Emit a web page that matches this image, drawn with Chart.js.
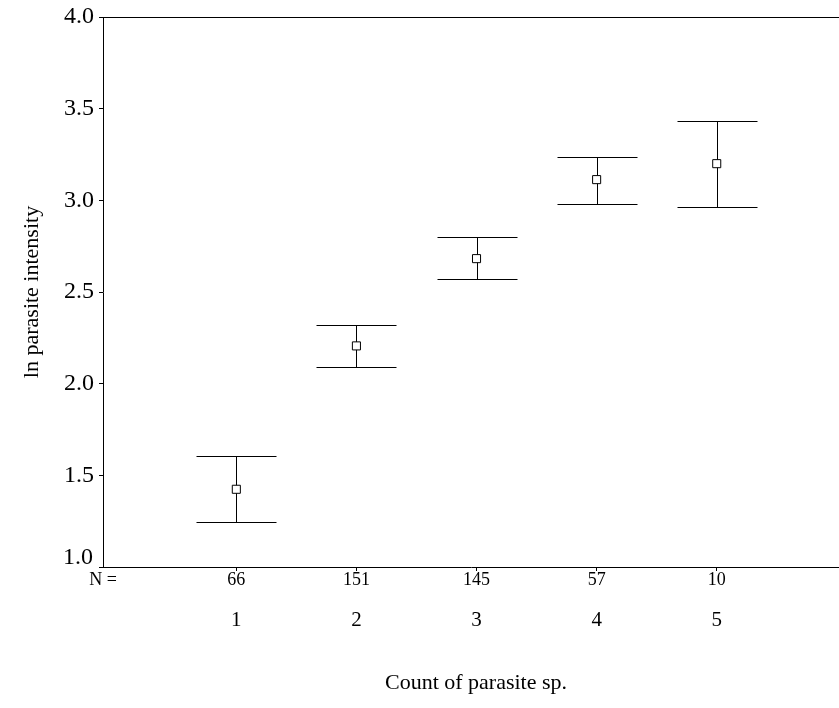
<!DOCTYPE html>
<html>
<head>
<meta charset="utf-8">
<script src="https://cdn.jsdelivr.net/npm/chart.js@4"></script>
<style>
  body { margin: 0; background: #fff; }
  canvas { display: block; }
</style>
</head>
<body>
<canvas id="myCanvas" width="839" height="708"></canvas>
<script>
// data
const categories = [1, 2, 3, 4, 5]
const counts = [66, 151, 145, 57, 10]
const means = [1.424, 2.206, 2.682, 3.113, 3.200]
const upper = [1.607, 2.320, 2.802, 3.238, 3.431]
const lower = [1.244, 2.093, 2.569, 2.982, 2.964]
const yTicks = [1.0, 1.5, 2.0, 2.5, 3.0, 3.5, 4.0]

const serif = "'Liberation Serif', 'Times New Roman', serif"
const capHalf = 40

const errorBars = {
  id: 'errorBars',
  beforeDatasetsDraw(chart) {
    const ctx = chart.ctx
    const xs = chart.scales.x
    const ys = chart.scales.y
    ctx.save()
    ctx.strokeStyle = '#000'
    ctx.lineWidth = 1
    categories.forEach((c, i) => {
      const x = Math.round(xs.getPixelForValue(c)) + 0.5
      const yU = Math.round(ys.getPixelForValue(upper[i])) + 0.5
      const yL = Math.round(ys.getPixelForValue(lower[i])) + 0.5
      ctx.beginPath()
      ctx.moveTo(x, yU); ctx.lineTo(x, yL)
      ctx.moveTo(x - capHalf, yU); ctx.lineTo(x + capHalf, yU)
      ctx.moveTo(x - capHalf, yL); ctx.lineTo(x + capHalf, yL)
      ctx.stroke()
    })
    ctx.restore()
  },
  afterDraw(chart) {
    const ctx = chart.ctx
    const area = chart.chartArea
    const xs = chart.scales.x
    const ys = chart.scales.y
    ctx.save()
    // top frame line
    ctx.strokeStyle = '#000'
    ctx.lineWidth = 1
    ctx.beginPath()
    ctx.moveTo(area.left, Math.round(area.top) + 0.5)
    ctx.lineTo(chart.width, Math.round(area.top) + 0.5)
    ctx.stroke()

    ctx.fillStyle = '#000'
    ctx.textBaseline = 'middle'

    // lowest y label sits a bit above its tick, clear of the N row
    ctx.font = '24px ' + serif
    ctx.textAlign = 'right'
    ctx.fillText(yTicks[0].toFixed(1), 93, ys.getPixelForValue(yTicks[0]) - 9)

    // N = row
    ctx.font = '18px ' + serif
    ctx.fillText('N =', 117, 580)
    ctx.textAlign = 'center'
    categories.forEach((c, i) => {
      ctx.fillText(String(counts[i]), xs.getPixelForValue(c), 580)
    })

    // category labels
    ctx.font = '21px ' + serif
    categories.forEach((c) => {
      ctx.fillText(String(c), xs.getPixelForValue(c), 620)
    })

    // axis titles
    ctx.font = '22px ' + serif
    ctx.fillText('Count of parasite sp.', 476, 683)
    ctx.translate(32, 292)
    ctx.rotate(-Math.PI / 2)
    ctx.fillText('ln parasite intensity', 0, 0)
    ctx.restore()
  }
}

const config = {
  type: 'scatter',
  data: {
    datasets: [{
      data: categories.map((c, i) => ({ x: c, y: means[i] })),
      pointStyle: 'rect',
      pointRadius: 5.7,
      pointHoverRadius: 5.7,
      backgroundColor: '#fff',
      borderColor: '#000',
      borderWidth: 1
    }]
  },
  options: {
    responsive: false,
    animation: false,
    layout: { autoPadding: false, padding: { top: 17, right: 0, left: 0, bottom: 0 } },
    plugins: { legend: { display: false }, tooltip: { enabled: false } },
    scales: {
      x: {
        type: 'linear',
        min: -0.11,
        max: 6.018,
        afterBuildTicks: (scale) => { scale.ticks = categories.map(v => ({ value: v })) },
        afterFit: (scale) => { scale.height = 141 },
        ticks: { display: false },
        grid: { drawOnChartArea: false, drawTicks: true, tickLength: 4, tickColor: '#000', color: '#000' },
        border: { display: true, color: '#000', width: 1 }
      },
      y: {
        min: 1,
        max: 4,
        afterBuildTicks: (scale) => { scale.ticks = yTicks.map(v => ({ value: v })) },
        afterFit: (scale) => {
          scale.width = 103
          scale.paddingTop = 0
          scale.paddingBottom = 0
        },
        ticks: {
          color: '#000',
          font: { family: serif, size: 24 },
          padding: 5,
          callback: (v) => v === yTicks[0] ? '' : v.toFixed(1)
        },
        grid: { drawOnChartArea: false, drawTicks: true, tickLength: 4, tickColor: '#000', color: '#000' },
        border: { display: true, color: '#000', width: 1 }
      }
    }
  },
  plugins: [errorBars]
}

var myChart = new Chart(document.getElementById('myCanvas'), config)
</script>
</body>
</html>
